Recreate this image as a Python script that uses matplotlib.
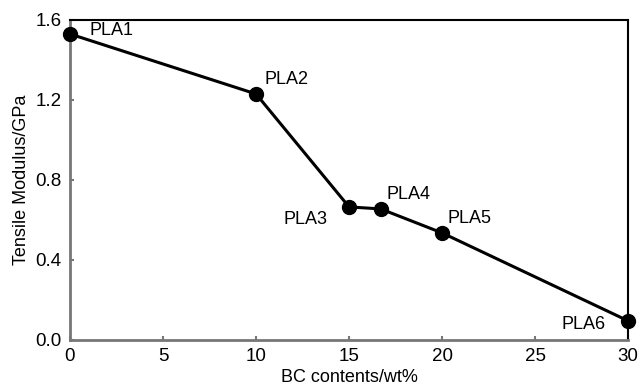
import matplotlib
matplotlib.use('Agg')
import matplotlib.pyplot as plt

plt.rcParams['font.family'] = ['Liberation Sans', 'DejaVu Sans']

bc = [0, 10, 15, 16.7, 20, 30]
modulus = [1.53, 1.23, 0.665, 0.655, 0.535, 0.095]
names = ['PLA1', 'PLA2', 'PLA3', 'PLA4', 'PLA5', 'PLA6']
offsets = [(14, -1), (6, 7), (-47, -12), (4, 7), (4, 7), (-48, -6)]

fig = plt.figure(figsize=(6.39, 3.92), dpi=100)
ax = fig.add_axes([0.1095, 0.133, 0.8735, 0.816])

ax.plot(bc, modulus, color='black', lw=2.2, marker='o', ms=10, clip_on=False, zorder=5)
for x, y, n, off in zip(bc, modulus, names, offsets):
    ax.annotate(n, (x, y), xytext=off, textcoords='offset points', fontsize=13)

ax.set_xlim(0, 30)
ax.set_ylim(0, 1.6)
ax.set_xticks([0, 5, 10, 15, 20, 25, 30])
ax.set_yticks([0.0, 0.4, 0.8, 1.2, 1.6])
ax.set_yticklabels(['0.0', '0.4', '0.8', '1.2', '1.6'])
ax.tick_params(direction='in', length=3, width=1.5, color='#777777', labelsize=13.5, pad=6)
for s in ['left', 'bottom']:
    ax.spines[s].set_color('#777777')
    ax.spines[s].set_linewidth(2)
for s in ['top', 'right']:
    ax.spines[s].set_color('black')
    ax.spines[s].set_linewidth(1.5)

ax.set_xlabel('BC contents/wt%', fontsize=13, labelpad=3)
ax.set_ylabel('Tensile Modulus/GPa', fontsize=13, labelpad=4)

fig.savefig('out.png', dpi=100)
